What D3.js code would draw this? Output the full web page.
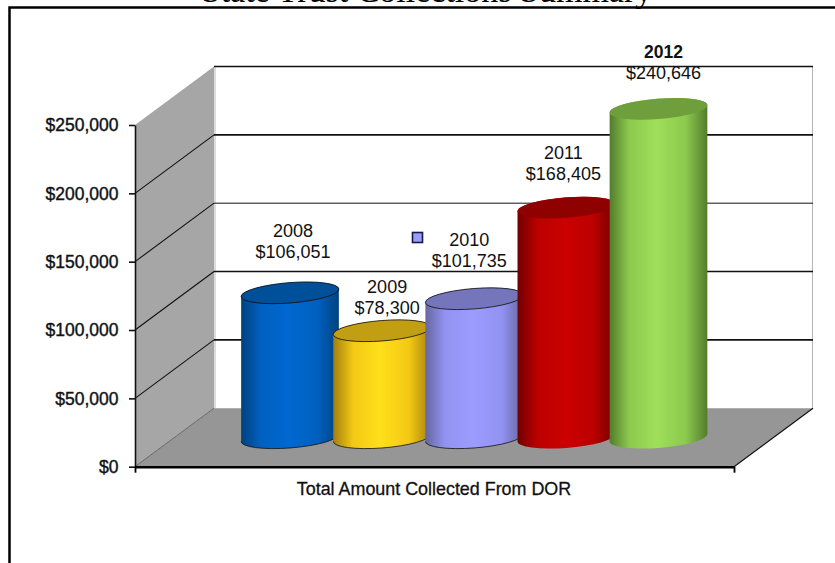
<!DOCTYPE html>
<html>
<head>
<meta charset="utf-8">
<script src="https://cdn.jsdelivr.net/npm/d3@7/dist/d3.min.js"></script>
<style>
html,body{margin:0;padding:0;background:#fff;}
svg{display:block;}
text{font-family:"Liberation Sans",Arial,sans-serif;fill:#111;}
</style>
</head>
<body>
<div id="chart"></div>
<script>
// Collections by year
const years = ["2008", "2009", "2010", "2011", "2012"];
const amounts = [106051, 78300, 101735, 168405, 240646];
const tickValues = [0, 50000, 100000, 150000, 200000, 250000];
const categoryLabel = "Total Amount Collected From DOR";
const chartTitle = "State Trust Collections Summary";

// Colours per cylinder: edge shade, mid shade, highlight, top cap
const palette = [
  {edge:"#00427f", mid:"#0060bf", light:"#0068d2", cap:"#004f99", outline:true},
  {edge:"#a37f10", mid:"#f2c814", light:"#ffdf1a", cap:"#c29f12", outline:true},
  {edge:"#66669f", mid:"#9292f2", light:"#9c9cff", cap:"#7575bb", outline:true},
  {edge:"#700000", mid:"#bb0000", light:"#cc0000", cap:"#8f0000", outline:false},
  {edge:"#537c2c", mid:"#8cc94e", light:"#9edf5a", cap:"#6f9e3d", outline:false}
];
// Data label placement relative to each cylinder's top
const labelNudge = [[3,-62],[5,-44],[-5,-59],[-3,-55],[5,-57]];

const W = 835, H = 563;
const depthX = 79, depthY = -58.5;
const axisLeft = 135, axisRight = 734;

const svg = d3.select("#chart").append("svg").attr("width", W).attr("height", H);
const defs = svg.append("defs");

const y = d3.scaleLinear().domain([0, 250000]).range([466.7, 125]);
const x = d3.scalePoint().domain(years).range([290, 658.5]);
const moneyFmt = d3.format("$,");

// Title, sitting above the frame and cut by the page top
svg.append("text").attr("x", 427).attr("y", 1.5).attr("text-anchor", "middle")
  .style("font-family", '"Liberation Serif",serif').style("font-size", "34px").style("fill", "#000")
  .text(chartTitle);

// Page frame, open at the bottom and right
svg.append("path").attr("d", `M9.5,${H} V7.5 H${W}`)
  .attr("fill", "none").attr("stroke", "#000").attr("stroke-width", 2.5);

// Side wall
const wallTop = y(250000), wallBase = y(0);
svg.append("polygon").attr("fill", "#a6a6a6")
  .attr("points", [[axisLeft, wallBase], [axisLeft, wallTop], [axisLeft + depthX, wallTop + depthY], [axisLeft + depthX, wallBase + depthY]].join(" "));
svg.append("rect").attr("x", axisLeft + depthX).attr("y", wallTop + depthY).attr("width", 2)
  .attr("height", wallBase - wallTop).attr("fill", "#dcdcdc");

// Back-wall right edge
svg.append("line").attr("x1", axisRight + depthX - .5).attr("x2", axisRight + depthX - .5)
  .attr("y1", wallTop + depthY).attr("y2", wallBase + depthY).attr("stroke", "#b5b5b5");

// Floor
svg.append("polygon").attr("fill", "#969696")
  .attr("points", [[axisLeft, wallBase], [axisLeft + depthX, wallBase + depthY], [axisRight + depthX, wallBase + depthY], [axisRight, wallBase]].join(" "));
svg.append("line").attr("x1", axisLeft).attr("y1", wallBase).attr("x2", axisLeft + depthX).attr("y2", wallBase + depthY)
  .attr("stroke", "#555").attr("stroke-width", .8);
svg.append("line").attr("x1", axisRight).attr("y1", wallBase).attr("x2", axisRight + depthX).attr("y2", wallBase + depthY)
  .attr("stroke", "#111").attr("stroke-width", 1.2);

// Gridlines: slanted on the side wall, level on the back wall
const grid = svg.append("g").attr("fill", "none").attr("stroke", "#111");
tickValues.filter(d => d > 0).forEach(d => {
  grid.append("path")
    .attr("d", `M${axisLeft + depthX},${y(d) + depthY} H${axisRight + depthX}`)
    .attr("stroke-width", d === 150000 ? 1 : 1.7);
  if (d < 250000) {
    grid.append("line").attr("x1", axisLeft).attr("y1", y(d))
      .attr("x2", axisLeft + depthX).attr("y2", y(d) + depthY).attr("stroke-width", 1.1);
  }
});

// Value axis
const yAxis = d3.axisLeft(y).tickValues(tickValues).tickFormat(moneyFmt).tickSize(6).tickSizeOuter(0);
const yG = svg.append("g").attr("transform", `translate(${axisLeft},0)`).call(yAxis);
yG.select(".domain").attr("stroke", "#111").attr("stroke-width", 1.6);
yG.selectAll(".tick line").attr("stroke", "#111").attr("stroke-width", 1.6);
yG.selectAll(".tick text").attr("x", -16.5).attr("dy", ".34em")
  .style("font-family", '"Liberation Sans",sans-serif').style("font-size", "17.5px")
  .style("fill", "#111").style("stroke", "#111").style("stroke-width", .4);

// Category axis line and end ticks
const catAxis = d3.scaleLinear().domain([0, 1]).range([axisLeft, axisRight]);
const xG = svg.append("g").attr("transform", `translate(0,${wallBase})`)
  .call(d3.axisBottom(catAxis).tickValues([0, 1]).tickFormat("").tickSize(6).tickSizeOuter(0));
xG.select(".domain").attr("stroke", "#000").attr("stroke-width", 2.6);
xG.selectAll(".tick line").attr("stroke", "#000").attr("stroke-width", 1.8);
svg.append("text").attr("x", 434).attr("y", 494.5).attr("text-anchor", "middle")
  .style("font-size", "17.9px").style("stroke", "#111").style("stroke-width", .3).text(categoryLabel);

// Cylinders: a tilted ellipse swept from the floor to the value
const rx = 49, ry = 10.2, tiltDeg = -4.5, tilt = tiltDeg * Math.PI / 180;
const u0 = Math.atan(-(ry / rx) * Math.tan(tilt));
const tx = rx * Math.cos(u0) * Math.cos(tilt) - ry * Math.sin(u0) * Math.sin(tilt);
const ty = rx * Math.cos(u0) * Math.sin(tilt) + ry * Math.sin(u0) * Math.cos(tilt);
const floorMid = y(0) + depthY / 2 + .3;
const heightOf = v => y(0) - y(v);

palette.forEach((p, i) => {
  const g = defs.append("linearGradient").attr("id", "cyl" + i);
  [[0, p.edge], [.2, p.mid], [.48, p.light], [.78, p.mid], [1, p.edge]].forEach(([o, c]) =>
    g.append("stop").attr("offset", o).attr("stop-color", c));
});

const cyl = svg.selectAll("g.cylinder").data(years).join("g").attr("class", "cylinder");
cyl.each(function (yr, i) {
  const cx = x(yr), yb = floorMid, yt = floorMid - heightOf(amounts[i]);
  const sel = d3.select(this), p = palette[i];
  const arc = (sweep, px, py) => `A${rx},${ry} ${tiltDeg} 0 ${sweep} ${px},${py}`;
  sel.append("path").attr("fill", `url(#cyl${i})`)
    .attr("d", `M${cx - tx},${yt - ty} L${cx - tx},${yb - ty} ${arc(0, cx + tx, yb + ty)} L${cx + tx},${yt + ty} ${arc(0, cx - tx, yt - ty)}Z`);
  if (p.outline) {
    sel.append("path").attr("fill", "none").attr("stroke", "#111").attr("stroke-width", .8)
      .attr("d", `M${cx - tx},${yb - ty} ${arc(0, cx + tx, yb + ty)}`);
  }
  sel.append("ellipse").attr("rx", rx).attr("ry", ry)
    .attr("transform", `translate(${cx},${yt}) rotate(${tiltDeg})`)
    .attr("fill", p.cap)
    .attr("stroke", p.outline ? "#111" : "none").attr("stroke-width", .8);
});

// Data labels: year above amount
const labels = svg.selectAll("g.dlabel").data(years).join("g").attr("class", "dlabel")
  .attr("transform", (d, i) => `translate(${x(d) + labelNudge[i][0]},${floorMid - heightOf(amounts[i]) + labelNudge[i][1]})`)
  .attr("text-anchor", "middle").style("font-size", "18px");
labels.append("text").attr("y", 0).attr("dy", ".35em").text(d => d)
  .style("font-weight", (d, i) => i === 4 ? "bold" : "normal").style("font-size", (d, i) => i === 4 ? "17.5px" : null);
labels.append("text").attr("y", 21).attr("dy", ".35em").text((d, i) => moneyFmt(amounts[i]));

// Stray legend key beside the 2010 label
svg.append("rect").attr("x", 412.5).attr("y", 232.5).attr("width", 10).attr("height", 10)
  .attr("fill", palette[2].light).attr("stroke", "#1a1a40").attr("stroke-width", 1.6);
</script>
</body>
</html>
